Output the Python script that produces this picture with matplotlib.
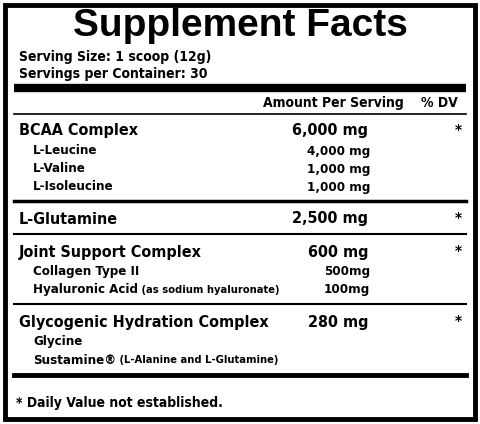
import matplotlib
matplotlib.use("Agg")
import matplotlib.pyplot as plt

NARROW = ["DejaVu Sans", "Liberation Sans"]
ST = "condensed"

title = "Supplement Facts"
serving = ["Serving Size: 1 scoop (12g)", "Servings per Container: 30"]
groups = [
    ("BCAA Complex", "6,000 mg", "*",
     [("L-Leucine", "", "4,000 mg"), ("L-Valine", "", "1,000 mg"), ("L-Isoleucine", "", "1,000 mg")]),
    ("L-Glutamine", "2,500 mg", "*", []),
    ("Joint Support Complex", "600 mg", "*",
     [("Collagen Type II", "", "500mg"), ("Hyaluronic Acid", " (as sodium hyaluronate)", "100mg")]),
    ("Glycogenic Hydration Complex", "280 mg", "*",
     [("Glycine", "", ""), ("Sustamine\u00ae", " (L-Alanine and L-Glutamine)", "")]),
]
footnote = "* Daily Value not established."

fig = plt.figure(figsize=(4.8, 4.24), dpi=100)
ax = fig.add_axes([0, 0, 1, 1])
ax.set_xlim(0, 480)
ax.set_ylim(424, 0)
ax.axis("off")

ax.add_patch(plt.Rectangle((5, 5), 470, 414, fill=False, lw=3.5, color="black"))

ax.text(240, 26, title, ha="center", va="center", fontsize=28, fontweight="black",
        family=["Liberation Sans", "DejaVu Sans"])
ax.text(19, 57, serving[0], va="center", fontsize=10, fontweight="bold", family=NARROW, fontstretch=ST)
ax.text(19, 74, serving[1], va="center", fontsize=10, fontweight="bold", family=NARROW, fontstretch=ST)
ax.plot([14, 466], [88, 88], color="black", lw=6, solid_capstyle="butt")

ax.text(404, 103, "Amount Per Serving", ha="right", va="center", fontsize=10,
        fontweight="bold", family=NARROW, fontstretch=ST)
ax.text(458, 103, "% DV", ha="right", va="center", fontsize=10, fontweight="bold",
        family=NARROW, fontstretch=ST)
ax.plot([14, 466], [114, 114], color="black", lw=1.2)

y = 131
for gi, (name, amt, dv, subs) in enumerate(groups):
    ax.text(19, y, name, va="center", fontsize=11.5, fontweight="bold", family=NARROW, fontstretch=ST)
    ax.text(368, y, amt, ha="right", va="center", fontsize=11.5, fontweight="bold",
            family=NARROW, fontstretch=ST)
    ax.text(458, y - 1, dv, ha="center", va="center", fontsize=10, fontweight="bold", family=NARROW)
    y += 20
    for sname, note, samt in subs:
        t = ax.text(33, y, sname, va="center", fontsize=9.5, fontweight="bold", family=NARROW,
                    fontstretch=ST)
        if note:
            fig.canvas.draw()
            bb = t.get_window_extent()
            ax.text(33 + bb.width, y, note, va="center", fontsize=8, fontweight="bold",
                    family=NARROW, fontstretch=ST)
        if samt:
            ax.text(370, y, samt, ha="right", va="center", fontsize=9.5, fontweight="bold",
                    family=NARROW, fontstretch=ST)
        y += 18
    if gi < len(groups) - 1:
        ly = y - 4 if subs else y - 5
        ax.plot([14, 466], [ly, ly], color="black", lw=2.5 if gi == 0 else 1.5)
        y = ly + 18
ax.plot([14, 466], [y - 3, y - 3], color="black", lw=3.5)

ax.text(16, 403, footnote, va="center", fontsize=10, fontweight="bold", family=NARROW, fontstretch=ST)

fig.savefig("out.png", dpi=100)
